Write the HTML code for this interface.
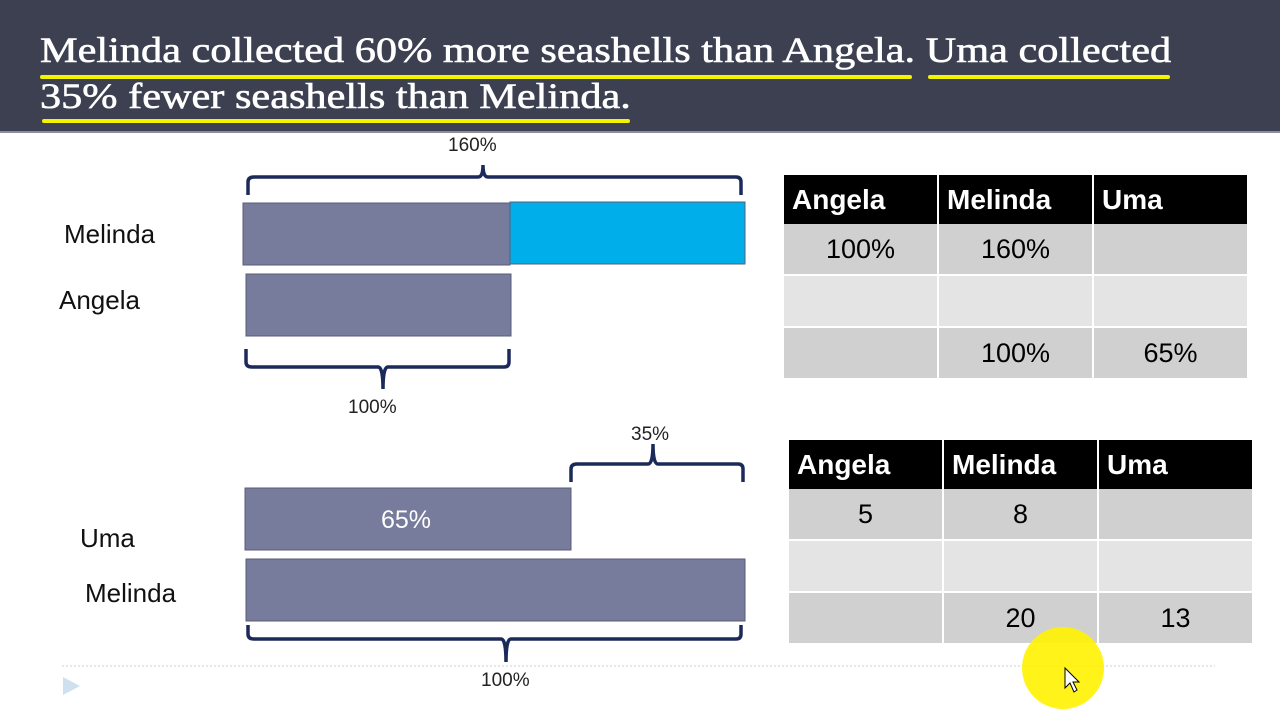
<!DOCTYPE html>
<html><head><style>
body{margin:0;width:1280px;height:720px;background:#fff;position:relative;overflow:hidden;font-family:"Liberation Sans",sans-serif}
.hdr{position:absolute;left:0;top:0;width:1280px;height:131px;background:#3c4050;border-bottom:2px solid #8a8d96}
.ht{position:absolute;left:40px;color:#fff;font-family:"Liberation Serif",serif;font-size:36px;white-space:nowrap;transform:scaleX(1.175);transform-origin:0 0;-webkit-text-stroke:0.6px #fff}
.ul{position:absolute;height:4px;background:#f4f400;border-radius:2px}
.lbl{position:absolute;font-size:26px;color:#111}
.sm{position:absolute;font-size:19px;color:#222}
table{position:absolute;border-collapse:collapse;font-size:27px}
td{width:153px;text-align:center;border-right:2px solid #fff;border-bottom:2px solid #fff;height:50px;padding:0}
th{background:#000;color:#fff;text-align:left;padding-left:8px;height:47px;font-size:28px;border-right:2px solid #fff}
tr.a td{background:#d0d0d0}tr.b td{background:#e4e4e4}
</style></head><body>
<div class="hdr"></div>
<div class="ht" style="top:29px">Melinda collected 60% more seashells than Angela. Uma collected</div>
<div class="ht" style="top:75px">35% fewer seashells than Melinda.</div>
<div class="ul" style="left:40px;top:75px;width:872px"></div>
<div class="ul" style="left:928px;top:75px;width:242px"></div>
<div class="ul" style="left:42px;top:119px;width:588px"></div>

<svg style="position:absolute;left:0;top:0" width="1280" height="720">
<g fill="#777b9c" stroke="#5a5e78" stroke-width="1">
<rect x="243" y="203" width="267" height="62"/>
<rect x="246" y="274" width="265" height="62"/>
<rect x="245" y="488" width="326" height="62"/>
<rect x="246" y="559" width="499" height="62"/>
</g>
<rect x="510" y="202" width="235" height="62" fill="#00aeea" stroke="#5a5e78"/>
<g fill="none" stroke="#1c2a5a" stroke-width="3.5">
<path d="M248 195 V182 Q248 177 254 177 H478 Q483 177 483 165 Q483 177 488 177 H736 Q741 177 741 182 V195"/>
<path d="M246 349 V362 Q246 367 252 367 H378 Q383 367 383 389 Q383 367 388 367 H504 Q509 367 509 362 V349"/>
<path d="M571 482 V469 Q571 464 577 464 H648 Q653 464 653 444 Q653 464 658 464 H738 Q743 464 743 469 V482"/>
<path d="M248 625 V634 Q248 639 254 639 H501 Q506 639 506 662 Q506 639 511 639 H736 Q741 639 741 634 V625"/>
</g>
<line x1="62" y1="666" x2="1215" y2="666" stroke="#ccc" stroke-dasharray="2,2"/>
<path d="M63 677 L80 686 L63 695 Z" fill="#cfe0f0"/>
</svg>
<div class="sm" style="left:448px;top:135px">160%</div>
<div class="sm" style="left:348px;top:397px">100%</div>
<div class="sm" style="left:631px;top:424px">35%</div>
<div class="sm" style="left:481px;top:670px">100%</div>
<div style="position:absolute;left:381px;top:506px;color:#fff;font-size:25px">65%</div>
<div class="lbl" style="left:64px;top:219px">Melinda</div>
<div class="lbl" style="left:59px;top:285px">Angela</div>
<div class="lbl" style="left:80px;top:523px">Uma</div>
<div class="lbl" style="left:85px;top:578px">Melinda</div>

<table style="left:784px;top:175px">
<tr><th>Angela</th><th>Melinda</th><th>Uma</th></tr>
<tr class="a"><td>100%</td><td>160%</td><td></td></tr>
<tr class="b"><td></td><td></td><td></td></tr>
<tr class="a"><td></td><td>100%</td><td>65%</td></tr>
</table>
<table style="left:789px;top:440px">
<tr><th>Angela</th><th>Melinda</th><th>Uma</th></tr>
<tr class="a"><td>5</td><td>8</td><td></td></tr>
<tr class="b"><td></td><td></td><td></td></tr>
<tr class="a"><td></td><td>20</td><td>13</td></tr>
</table>
<svg style="position:absolute;left:0;top:0" width="1280" height="720">
<circle cx="1063" cy="668" r="41" fill="#fff200" opacity="0.9"/>
<path d="M1065 668 L1065 688 L1070 683 L1074 692 L1077 690 L1073 682 L1079 682 Z" fill="#fff" stroke="#000"/>
</svg>
</body></html>
